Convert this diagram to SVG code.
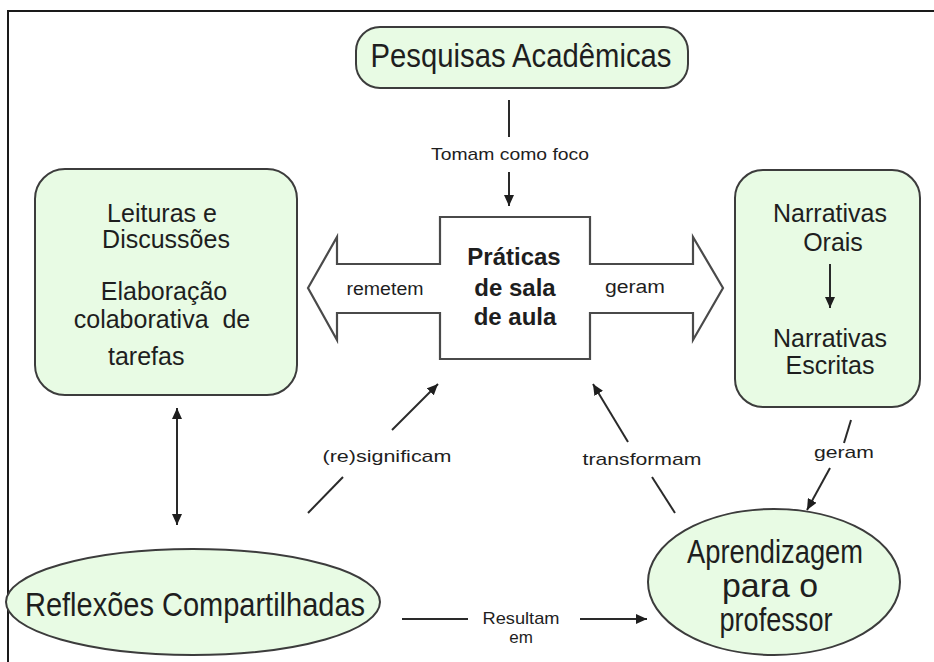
<svg xmlns="http://www.w3.org/2000/svg" width="934" height="662" viewBox="0 0 934 662">
<defs>
<style>
.node{fill:#e8fbe4;stroke:#3c3c3c;stroke-width:2}
.t{font-family:"Liberation Sans",Arial,sans-serif;fill:#1e1e1e;text-anchor:middle}
.big{font-size:33px}
.mid{font-size:25px}
.lab{font-size:17px}
.c{stroke:#2a2a2a;stroke-width:2;fill:none}
</style>
<marker id="ah" markerUnits="userSpaceOnUse" markerWidth="12" markerHeight="10" refX="11" refY="5" orient="auto-start-reverse">
<path d="M0,0 L11,5 L0,10 z" fill="#1e1e1e"/>
</marker>
</defs>
<rect width="934" height="662" fill="#ffffff"/>
<rect x="8" y="11" width="950" height="680" fill="none" stroke="#1a1a1a" stroke-width="2"/>

<g id="pesquisas">
<rect class="node" x="356" y="27" width="332" height="61" rx="24"/>
<text class="t big" x="521" y="67" textLength="301" lengthAdjust="spacingAndGlyphs">Pesquisas Acadêmicas</text>
</g>

<g id="praticas">
<polygon points="308,288 337,237 337,264 440,264 440,217 590,217 590,264 693,264 693,237 723,288 693,340 693,313 590,313 590,359 440,359 440,313 337,313 337,340" fill="#ffffff" stroke="#4a4a4a" stroke-width="2.2" stroke-linejoin="miter"/>
<text class="t" font-size="24" font-weight="bold" x="514" y="265">Práticas</text>
<text class="t" font-size="24" font-weight="bold" x="515" y="296">de sala</text>
<text class="t" font-size="24" font-weight="bold" x="515" y="325">de aula</text>
<text class="t" font-size="18" x="385" y="295" textLength="77" lengthAdjust="spacingAndGlyphs">remetem</text>
<text class="t" font-size="18" x="635" y="293" textLength="60" lengthAdjust="spacingAndGlyphs">geram</text>
</g>

<g id="leituras">
<rect class="node" x="35" y="169" width="262" height="226" rx="30"/>
<text class="t mid" x="162" y="222">Leituras e</text>
<text class="t mid" x="166" y="248">Discussões</text>
<text class="t mid" x="164" y="300">Elaboração</text>
<text class="t mid" x="162" y="328" xml:space="preserve">colaborativa  de</text>
<text class="t mid" x="108" y="365" style="text-anchor:start">tarefas</text>
</g>

<g id="narrativas">
<rect class="node" x="735" y="170" width="185" height="237" rx="28"/>
<text class="t mid" x="830" y="222">Narrativas</text>
<text class="t mid" x="833" y="251">Orais</text>
<text class="t mid" x="830" y="347">Narrativas</text>
<text class="t mid" x="830" y="374">Escritas</text>
<line class="c" x1="830" y1="264" x2="830" y2="308" marker-end="url(#ah)"/>
</g>

<g id="reflexoes">
<ellipse class="node" cx="193" cy="602" rx="187" ry="53"/>
<text class="t big" x="195" y="616" textLength="340" lengthAdjust="spacingAndGlyphs">Reflexões Compartilhadas</text>
</g>

<g id="aprendizagem">
<ellipse class="node" cx="774" cy="582" rx="126" ry="73"/>
<text class="t big" x="775" y="563" textLength="176" lengthAdjust="spacingAndGlyphs">Aprendizagem</text>
<text class="t big" x="770" y="597" textLength="96" lengthAdjust="spacingAndGlyphs">para o</text>
<text class="t big" x="776" y="631" textLength="113" lengthAdjust="spacingAndGlyphs">professor</text>
</g>

<g id="connectors">
<line class="c" x1="509" y1="100" x2="509" y2="137"/>
<text class="t lab" x="510" y="160" textLength="158" lengthAdjust="spacingAndGlyphs">Tomam como foco</text>
<line class="c" x1="509" y1="172" x2="509" y2="206" marker-end="url(#ah)"/>

<line class="c" x1="177" y1="408" x2="177" y2="525" marker-start="url(#ah)" marker-end="url(#ah)"/>

<line class="c" x1="392" y1="430" x2="438" y2="384" marker-end="url(#ah)"/>
<text class="t lab" x="387" y="462" textLength="129" lengthAdjust="spacingAndGlyphs">(re)significam</text>
<line class="c" x1="343" y1="477" x2="308" y2="513"/>

<line class="c" x1="628" y1="442" x2="593" y2="384" marker-end="url(#ah)"/>
<text class="t lab" x="642" y="465" textLength="119" lengthAdjust="spacingAndGlyphs">transformam</text>
<line class="c" x1="652" y1="477" x2="675" y2="513"/>

<line class="c" x1="851" y1="420" x2="844" y2="443"/>
<text class="t lab" x="844" y="458" textLength="60" lengthAdjust="spacingAndGlyphs">geram</text>
<line class="c" x1="830" y1="468" x2="807" y2="510" marker-end="url(#ah)"/>

<line class="c" x1="402" y1="619" x2="468" y2="619"/>
<text class="t lab" x="521" y="624" textLength="77" lengthAdjust="spacingAndGlyphs">Resultam</text>
<text class="t lab" x="521" y="643">em</text>
<line class="c" x1="580" y1="619" x2="647" y2="619" marker-end="url(#ah)"/>
</g>
</svg>
